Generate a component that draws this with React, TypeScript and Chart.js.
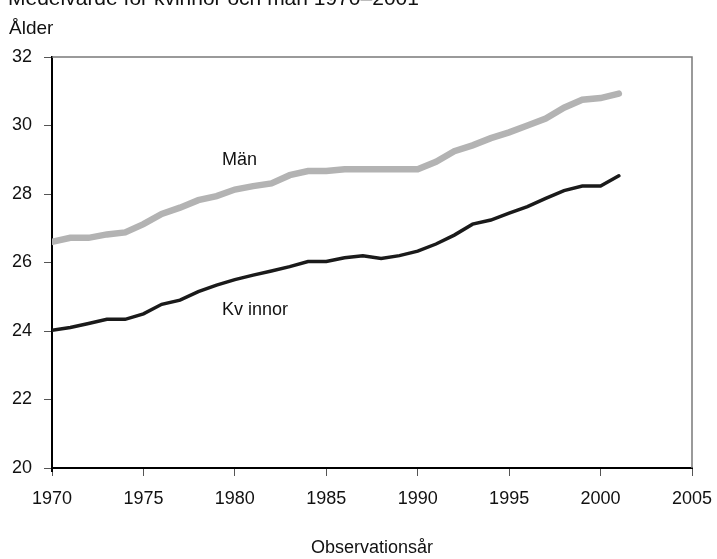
import React, { useEffect, useRef } from "react";
import { Chart, registerables } from "chart.js";

Chart.register(...registerables);

const years = [1970, 1971, 1972, 1973, 1974, 1975, 1976, 1977, 1978, 1979, 1980, 1981, 1982, 1983, 1984, 1985, 1986, 1987, 1988, 1989, 1990, 1991, 1992, 1993, 1994, 1995, 1996, 1997, 1998, 1999, 2000, 2001];
const men = [26.6, 26.72, 26.72, 26.82, 26.88, 27.12, 27.42, 27.6, 27.82, 27.94, 28.13, 28.23, 28.31, 28.55, 28.67, 28.67, 28.72, 28.72, 28.72, 28.72, 28.72, 28.94, 29.25, 29.42, 29.63, 29.8, 30.0, 30.2, 30.52, 30.75, 30.8, 30.93];
const women = [24.02, 24.1, 24.22, 24.34, 24.34, 24.5, 24.78, 24.9, 25.15, 25.34, 25.5, 25.63, 25.75, 25.88, 26.03, 26.03, 26.14, 26.2, 26.12, 26.2, 26.33, 26.54, 26.8, 27.12, 27.24, 27.44, 27.63, 27.87, 28.1, 28.23, 28.23, 28.53];
const title = "Medelvärde för kvinnor och män 1970–2001";
const yTitle = "Ålder";
const xTitle = "Observationsår";
const menLabel = "Män";
const womenLabel = "Kv innor";

const FONT = "'Liberation Sans', Arial, sans-serif";

export default function App() {
  const ref = useRef<HTMLCanvasElement | null>(null);

  useEffect(() => {
    const ctx = ref.current!;
    const extras = {
      id: "extras",
      afterDraw(chart: any) {
        const c = chart.ctx;
        const a = chart.chartArea;
        c.save();
        // top and right frame
        c.strokeStyle = "#7a7a7a";
        c.lineWidth = 1.5;
        c.beginPath();
        c.moveTo(a.left, a.top);
        c.lineTo(a.right, a.top);
        c.lineTo(a.right, a.bottom);
        c.stroke();
        // left axis slight overhang below
        c.strokeStyle = "#000";
        c.lineWidth = 2;
        c.beginPath();
        c.moveTo(a.left, a.bottom);
        c.lineTo(a.left, a.bottom + 4);
        c.stroke();
        c.fillStyle = "#111";
        c.font = `19px ${FONT}`;
        c.textBaseline = "middle";
        c.textAlign = "left";
        c.fillText(yTitle, 9, 29);
        const xs = chart.scales.x;
        const ys = chart.scales.y;
        c.font = `18px ${FONT}`;
        c.fillText(menLabel, xs.getPixelForValue(1979.3), ys.getPixelForValue(29.0));
        c.fillText(womenLabel, xs.getPixelForValue(1979.3), ys.getPixelForValue(24.6));
        c.restore();
      },
    };
    const chart = new Chart(ctx, {
      type: "line",
      data: {
        datasets: [
          {
            label: menLabel,
            data: years.map((y, i) => ({ x: y, y: men[i] })),
            borderColor: "#b3b3b3",
            borderWidth: 6.5,
            pointRadius: 0,
            tension: 0,
            borderCapStyle: "round",
          },
          {
            label: womenLabel,
            data: years.map((y, i) => ({ x: y, y: women[i] })),
            borderColor: "#1a1a1a",
            borderWidth: 3.5,
            pointRadius: 0,
            tension: 0,
            borderCapStyle: "round",
          },
        ],
      },
      options: {
        animation: false,
        responsive: false,
        maintainAspectRatio: false,
        layout: { padding: { top: 57, right: 25, left: 0, bottom: 0 } },
        plugins: { legend: { display: false }, tooltip: { enabled: false } },
        scales: {
          x: {
            type: "linear",
            min: 1970,
            max: 2005,
            afterFit: (s: any) => {
              s.height = 91;
              s.paddingLeft = 0;
              s.paddingRight = 0;
            },
            ticks: {
              stepSize: 5,
              color: "#111",
              font: { family: FONT, size: 18 },
              padding: 12,
              maxRotation: 0,
              callback: (v: any) => String(v),
            },
            grid: {
              drawOnChartArea: false,
              drawTicks: true,
              tickLength: 8,
              color: "#555",
            },
            border: { color: "#000", width: 2 },
            title: {
              display: true,
              text: xTitle,
              color: "#111",
              font: { family: FONT, size: 18 },
              padding: { top: 0, bottom: 0 },
            },
          },
          y: {
            min: 20,
            max: 32,
            afterFit: (s: any) => {
              s.width = 52;
              s.paddingTop = 0;
              s.paddingBottom = 0;
            },
            ticks: {
              stepSize: 2,
              color: "#111",
              font: { family: FONT, size: 18 },
              padding: 12,
            },
            grid: {
              drawOnChartArea: false,
              drawTicks: true,
              tickLength: 8,
              color: "#555",
            },
            border: { color: "#000", width: 2 },
          },
        },
      },
      plugins: [extras],
    });
    return () => chart.destroy();
  }, []);

  return (
    <div style={{ position: "fixed", left: 0, top: 0, width: 717, height: 559, background: "#fff", overflow: "hidden" }}>
      <div
        style={{
          position: "absolute",
          left: 8,
          top: -14,
          fontFamily: FONT,
          fontSize: 21,
          lineHeight: "24px",
          color: "#111",
          whiteSpace: "nowrap",
          zIndex: 1,
        }}
      >
        {title}
      </div>
      <canvas ref={ref} width={717} height={559} style={{ display: "block" }} />
    </div>
  );
}
